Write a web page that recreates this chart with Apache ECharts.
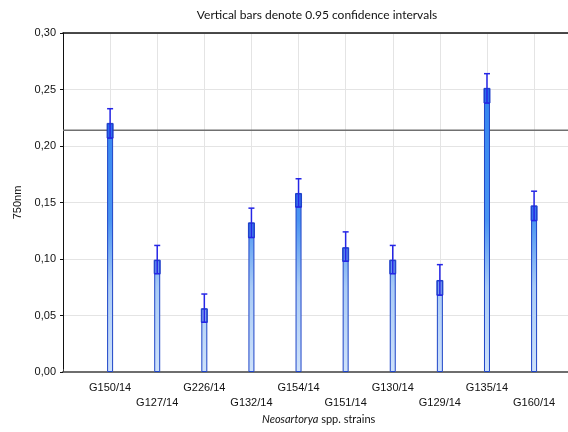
<!DOCTYPE html>
<html>
<head>
<meta charset="utf-8">
<script src="https://cdn.jsdelivr.net/npm/echarts@6/dist/echarts.min.js"></script>
<style>html,body{margin:0;padding:0;background:#fff}#c{width:568px;height:432px}</style>
</head>
<body>
<div id="c"></div>
<script>
const categories = ['G150/14','G127/14','G226/14','G132/14','G154/14','G151/14','G130/14','G129/14','G135/14','G160/14'];
const means = [0.220, 0.099, 0.056, 0.132, 0.158, 0.110, 0.099, 0.081, 0.251, 0.147];
const ciLow = [0.207, 0.087, 0.044, 0.119, 0.146, 0.098, 0.087, 0.068, 0.238, 0.134];
const ciHigh = [0.233, 0.112, 0.069, 0.145, 0.171, 0.124, 0.112, 0.095, 0.264, 0.160];
const refLine = 0.214;

const chart = echarts.init(document.getElementById('c'));
const barData = means.map((v, i) => [i + 1, v]);
const errData = means.map((v, i) => [i + 1, ciLow[i], ciHigh[i]]);
const xMax = 10.72;

chart.setOption({
  animation: false,
  title: {
    text: 'Vertical bars denote 0.95 confidence intervals',
    left: 312, textAlign: 'center', top: 4,
    textStyle: { fontFamily: 'Lato', fontSize: 12, fontWeight: 'normal', color: '#111' }
  },
  grid: { left: 63, right: 0, top: 33, bottom: 60, show: false },
  xAxis: [{
    type: 'value', min: 0, max: xMax, interval: 1,
    axisLine: { show: true, onZero: false, lineStyle: { color: '#6e6e6e', width: 2 } },
    axisTick: { show: true, inside: true, length: 3, lineStyle: { color: '#444' } },
    splitLine: { show: true, lineStyle: { color: '#e4e4e4', width: 1 } },
    axisLabel: {
      fontFamily: 'Liberation Sans', fontSize: 11, color: '#111', margin: 8, lineHeight: 15,
      showMaxLabel: false,
      formatter: function (v) {
        const i = Math.round(v) - 1;
        if (Math.abs(v - Math.round(v)) > 1e-6 || i < 0 || i >= categories.length) return '';
        return (i % 2 === 1 ? '\n' : '') + categories[i];
      }
    }
  }, {
    type: 'value', position: 'top', min: 0, max: xMax,
    axisLine: { show: true, onZero: false, lineStyle: { color: '#111', width: 1.5 } },
    axisTick: { show: false }, axisLabel: { show: false }, splitLine: { show: false }
  }],
  yAxis: {
    type: 'value', min: 0, max: 0.30, interval: 0.05,
    name: '750nm', nameLocation: 'middle', nameGap: 37,
    nameTextStyle: { fontFamily: 'Liberation Sans', fontSize: 11, color: '#111' },
    axisLine: { show: true, lineStyle: { color: '#111', width: 1 } },
    axisTick: { show: true, length: 3, lineStyle: { color: '#111' } },
    splitLine: { show: true, lineStyle: { color: '#e4e4e4', width: 1 } },
    axisLabel: {
      fontFamily: 'Liberation Sans', fontSize: 11, color: '#111', margin: 7,
      formatter: v => v.toFixed(2).replace('.', ',')
    }
  },
  graphic: [{
    type: 'text', left: 262, top: 414,
    style: {
      text: '{i|Neosartorya} spp. strains',
      rich: { i: { fontStyle: 'italic', fontFamily: 'Lato', fontSize: 11, fill: '#111' } },
      fontFamily: 'Lato', fontSize: 11, fill: '#111'
    }
  }],
  series: [
    {
      type: 'line', data: [[0, refLine], [xMax, refLine]], symbol: 'none', silent: true,
      lineStyle: { color: '#707070', width: 1.5 }, z: 1
    },
    {
      type: 'bar', data: barData, barWidth: 6,
      itemStyle: {
        color: { type: 'linear', x: 0, y: 33, x2: 0, y2: 372, global: true,
          colorStops: [{ offset: 0, color: '#2a7cf0' }, { offset: 0.55, color: '#4a94f2' }, { offset: 0.75, color: '#a9cbf6' }, { offset: 1, color: '#cfe2fa' }] },
        borderColor: '#1e45c8', borderWidth: 1
      },
      z: 2
    },
    {
      type: 'custom', data: errData, z: 3,
      renderItem: function (params, api) {
        const x = api.value(0);
        const lo = api.coord([x, api.value(1)]);
        const hi = api.coord([x, api.value(2)]);
        const mid = api.coord([x, means[params.dataIndex]]);
        const w = 3;
        const st = { stroke: '#2626e6', lineWidth: 1.5 };
        return {
          type: 'group',
          children: [
            { type: 'rect', shape: { x: mid[0] - 3, y: mid[1], width: 6, height: lo[1] - mid[1] }, style: { fill: 'rgba(20,60,230,0.3)', stroke: '#1e3fc8', lineWidth: 1 } },
            { type: 'line', shape: { x1: hi[0], y1: hi[1], x2: lo[0], y2: lo[1] }, style: st },
            { type: 'line', shape: { x1: hi[0] - w, y1: hi[1], x2: hi[0] + w, y2: hi[1] }, style: st },
            { type: 'line', shape: { x1: lo[0] - w, y1: lo[1], x2: lo[0] + w, y2: lo[1] }, style: st }
          ]
        };
      }
    }
  ]
});
</script>
</body>
</html>
